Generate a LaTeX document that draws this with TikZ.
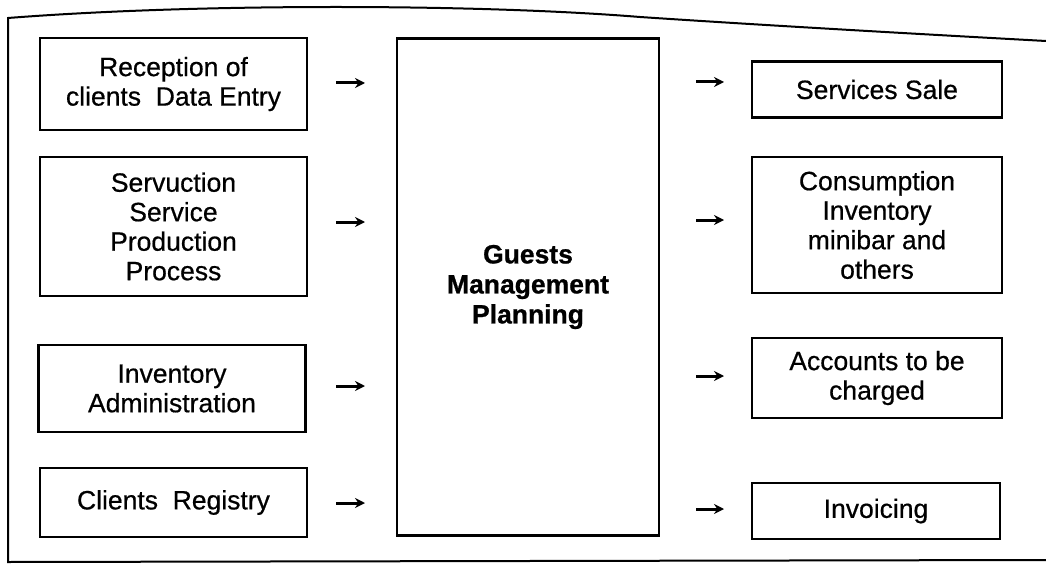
\documentclass[tikz,border=0pt]{standalone}
\usepackage{fontspec}
\setmainfont{Liberation Sans}[FakeBold=0.6]
\usetikzlibrary{arrows.meta}
\begin{document}
\begin{tikzpicture}[x=1pt,y=-1pt,
  box/.style={draw, line width=2.4pt, rectangle, inner sep=0pt, align=center,
    font=\fontsize{26.5}{29.5}\selectfont\addfontfeature{FakeBold=0.6}},
  hub/.style={box, font=\fontsize{26.5}{30}\selectfont\bfseries\addfontfeature{FakeBold=0.8}},
  arr/.style={line width=3pt, -{Stealth[length=10pt,width=10pt]}},
  frame/.style={line width=2pt}]
\useasboundingbox (0,0) rectangle (1046,564);

% outer frame of the page
\draw[frame] (1046,41) .. controls (900,33) and (760,25) .. (640,17)
  .. controls (480,4) and (200,3) .. (8,18) -- (8,562) -- (1046,560);

% input boxes
\node[box, minimum width=267pt, minimum height=92pt]  (in1) at (173.5,84)  {Reception of\\clients\ \ Data Entry};
\node[box, minimum width=267pt, minimum height=139pt] (in2) at (173.5,226.5) {Servuction\\Service\\Production\\Process};
\node[box, minimum width=267pt, minimum height=87pt]  (in3) at (172,388.5) {Inventory\\Administration};
\node[box, minimum width=267pt, minimum height=69pt]  (in4) at (173.5,502.5) {Clients\ \ Registry};

% central box
\node[hub, minimum width=262pt, minimum height=497pt] (hub) at (528,287) {Guests\\Management\\Planning};

% output boxes
\node[box, minimum width=250pt, minimum height=56pt]  (out1) at (877,89.5) {Services Sale};
\node[box, minimum width=250pt, minimum height=136pt] (out2) at (877,225) {Consumption\\Inventory\\minibar and\\others};
\node[box, minimum width=250pt, minimum height=80pt]  (out3) at (877,378) {Accounts to be\\charged};
\node[box, minimum width=248pt, minimum height=56pt]  (out4) at (876,511) {Invoicing};

% short arrows into the central box
\coordinate (l1a) at (336,83);  \coordinate (l1b) at (365,83);
\coordinate (l2a) at (336,222); \coordinate (l2b) at (365,222);
\coordinate (l3a) at (336,386); \coordinate (l3b) at (365,386);
\coordinate (l4a) at (336,503); \coordinate (l4b) at (365,503);
\draw[arr] (l1a) -- (l1b);
\draw[arr] (l2a) -- (l2b);
\draw[arr] (l3a) -- (l3b);
\draw[arr] (l4a) -- (l4b);

% short arrows towards the output boxes
\coordinate (r1a) at (696,82);  \coordinate (r1b) at (724,82);
\coordinate (r2a) at (696,220); \coordinate (r2b) at (724,220);
\coordinate (r3a) at (696,376); \coordinate (r3b) at (724,376);
\coordinate (r4a) at (696,509); \coordinate (r4b) at (724,509);
\draw[arr] (r1a) -- (r1b);
\draw[arr] (r2a) -- (r2b);
\draw[arr] (r3a) -- (r3b);
\draw[arr] (r4a) -- (r4b);
\end{tikzpicture}
\end{document}
